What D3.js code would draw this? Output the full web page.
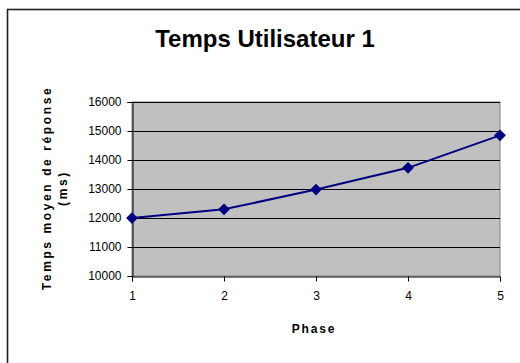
<!DOCTYPE html>
<html>
<head>
<meta charset="utf-8">
<script src="https://cdn.jsdelivr.net/npm/d3@7"></script>
<style>
  html, body { margin: 0; padding: 0; background: #fff; }
  svg { display: block; font-family: Arial, "Liberation Sans", sans-serif; }
</style>
</head>
<body>
<svg id="chart" width="520" height="363"></svg>
<script>
// Mean response time per phase for user 1
const phases = [1, 2, 3, 4, 5];
const responseTimes = [12000, 12300, 12980, 13730, 14850];
const yTicks = [10000, 11000, 12000, 13000, 14000, 15000, 16000];

const title = "Temps Utilisateur 1";
const xTitle = "Phase";
const yTitleLines = ["Temps moyen de réponse", "(ms)"];

const svg = d3.select("#chart");
const plot = { left: 132, right: 500, top: 102, bottom: 276 };

const x = d3.scaleLinear().domain([1, 5]).range([plot.left, plot.right]);
const y = d3.scaleLinear().domain([10000, 16000]).range([plot.bottom, plot.top]);

// Outer chart frame
svg.append("rect")
  .attr("x", 7.5).attr("y", 9.5)
  .attr("width", 530).attr("height", 370)
  .attr("fill", "#fff").attr("stroke", "#222").attr("stroke-width", 1.6);

// Plot area background
svg.append("rect")
  .attr("x", plot.left).attr("y", plot.top)
  .attr("width", plot.right - plot.left).attr("height", plot.bottom - plot.top)
  .attr("fill", "#c0c0c0").attr("stroke", "#808080").attr("stroke-width", 1);

// Horizontal gridlines
svg.append("g")
  .selectAll("line")
  .data(yTicks.filter(d => d !== 10000))
  .join("line")
  .attr("x1", plot.left).attr("x2", plot.right)
  .attr("y1", d => Math.round(y(d)) + 0.5).attr("y2", d => Math.round(y(d)) + 0.5)
  .attr("stroke", "#000").attr("stroke-width", 1);

// Y axis
const yAxis = svg.append("g")
  .attr("transform", `translate(${plot.left + 0.5},0)`)
  .call(d3.axisLeft(y).tickValues(yTicks).tickSize(5).tickPadding(6).tickFormat(d3.format("d")));
yAxis.select(".domain").attr("stroke", "#000");
yAxis.selectAll("line").attr("stroke", "#000");
yAxis.selectAll("text").attr("font-size", 12).attr("fill", "#000")
  .attr("font-family", "Arial, 'Liberation Sans', sans-serif");

// X axis
const xAxis = svg.append("g")
  .attr("transform", `translate(0,${plot.bottom + 0.5})`)
  .call(d3.axisBottom(x).tickValues(phases).tickSize(5).tickPadding(10).tickFormat(d3.format("d")));
xAxis.select(".domain").attr("stroke", "#000");
xAxis.selectAll("line").attr("stroke", "#000");
xAxis.selectAll("text").attr("font-size", 12).attr("fill", "#000")
  .attr("font-family", "Arial, 'Liberation Sans', sans-serif");

// Series line
svg.append("path")
  .datum(phases.map((p, i) => [p, responseTimes[i]]))
  .attr("fill", "none")
  .attr("stroke", "#000080")
  .attr("stroke-width", 2)
  .attr("d", d3.line().x(d => x(d[0])).y(d => y(d[1])));

// Diamond markers
svg.append("g")
  .selectAll("path")
  .data(phases.map((p, i) => [p, responseTimes[i]]))
  .join("path")
  .attr("transform", d => `translate(${x(d[0])},${y(d[1])})`)
  .attr("d", d3.symbol().type(d3.symbolDiamond2).size(88))
  .attr("fill", "#000080");

// Title
svg.append("text")
  .attr("x", 265).attr("y", 47)
  .attr("text-anchor", "middle")
  .attr("font-size", 24).attr("font-weight", "bold")
  .text(title);

// X axis title
svg.append("text")
  .attr("x", 314).attr("y", 333)
  .attr("text-anchor", "middle")
  .attr("font-size", 12).attr("font-weight", "bold")
  .attr("letter-spacing", 1.8)
  .text(xTitle);

// Y axis title (two rotated lines)
const yt = svg.append("text")
  .attr("transform", "translate(51,188) rotate(-90)")
  .attr("text-anchor", "middle")
  .attr("font-size", 12).attr("font-weight", "900")
  .attr("letter-spacing", 2.6);
yt.selectAll("tspan")
  .data(yTitleLines)
  .join("tspan")
  .attr("x", 0)
  .attr("dy", (d, i) => i === 0 ? 0 : 16)
  .text(d => d);
</script>
</body>
</html>
